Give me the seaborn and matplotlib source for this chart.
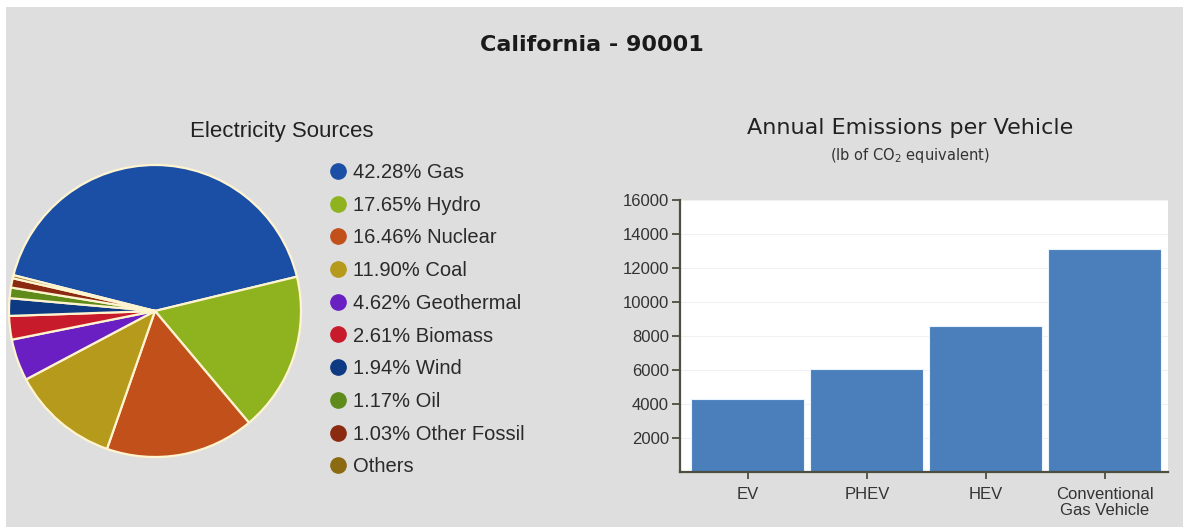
import matplotlib
matplotlib.use("Agg")
import matplotlib.pyplot as plt
from matplotlib.lines import Line2D
from matplotlib.patches import Rectangle
import seaborn as sns
import pandas as pd

# ---- data ----
sources = ["Gas", "Hydro", "Nuclear", "Coal", "Geothermal", "Biomass",
           "Wind", "Oil", "Other Fossil", "Others"]
shares = [42.28, 17.65, 16.46, 11.90, 4.62, 2.61, 1.94, 1.17, 1.03, 0.34]
share_labels = ["42.28% Gas", "17.65% Hydro", "16.46% Nuclear", "11.90% Coal",
                "4.62% Geothermal", "2.61% Biomass", "1.94% Wind", "1.17% Oil",
                "1.03% Other Fossil", "Others"]
source_colors = ["#1b4fa6", "#8fb21f", "#c1501b", "#b69a1c", "#6a1fc2",
                 "#c71a2a", "#0d3a82", "#5f8b1b", "#8a2a10", "#8b6a12"]

vehicles = ["EV", "PHEV", "HEV", "Conventional\nGas Vehicle"]
emissions = [4270, 6040, 8590, 13090]
yticks = [2000, 4000, 6000, 8000, 10000, 12000, 14000, 16000]

sns.set_theme(style="white")
plt.rcParams["font.family"] = ["Liberation Sans", "DejaVu Sans"]

W, H = 1183, 527
fig = plt.figure(figsize=(W / 100, H / 100), dpi=100, facecolor="white")
fig.patches.append(Rectangle((6 / W, 0), 1, 1 - 7 / H, transform=fig.transFigure,
                             facecolor="#dedede", edgecolor="none", zorder=-10))

def fx(px):
    return px / W

def fy(py):
    return 1 - py / H

# main title
fig.text(fx(592), fy(45), "California - 90001", ha="center", va="center",
         fontsize=16, fontweight="bold", family="DejaVu Sans", color="#1a1a1a")

# ---- pie ----
cx, cy, r = 155, 311, 146
axp = fig.add_axes([fx(cx - r), fy(cy + r), (2 * r) / W, (2 * r) / H])
axp.pie(shares, colors=source_colors, startangle=165.8, counterclock=False,
        wedgeprops=dict(edgecolor="#fff4d0", linewidth=1.6))
axp.set_xlim(-1, 1)
axp.set_ylim(-1, 1)
axp.set_aspect("auto")
axp.axis("off")

fig.text(fx(282), fy(131), "Electricity Sources", ha="center", va="center",
         fontsize=16, color="#222222")

handles = [Line2D([0], [0], marker="o", linestyle="none", markersize=11,
                  markerfacecolor=c, markeredgecolor=c) for c in source_colors]
fig.legend(handles, share_labels, loc="upper left",
           bbox_to_anchor=(fx(318), fy(155)), frameon=False, fontsize=14.5,
           labelspacing=0.68, handletextpad=0.15, handlelength=1.2,
           labelcolor="#2a2a2a", borderaxespad=0)

# ---- bar chart ----
axb = fig.add_axes([fx(680), fy(472), (1168 - 680) / W, (472 - 200) / H])
df = pd.DataFrame({"vehicle": vehicles, "emissions": emissions})
sns.barplot(data=df, x="vehicle", y="emissions", ax=axb, color="#4a7fbb",
            saturation=1, width=0.95, edgecolor="#e8f4ff", linewidth=0.8)
axb.set_facecolor("white")
axb.set_ylim(0, 16000)
axb.set_xlim(-0.57, 3.53)
axb.set_yticks(yticks)
axb.set_yticklabels([str(v) for v in yticks], fontsize=12, color="#333333")
axb.set_xticklabels(vehicles, fontsize=12, color="#333333", linespacing=1.05)
axb.set_xlabel("")
axb.set_ylabel("")
for y in yticks:
    axb.axhline(y, color="#f0f0f0", linewidth=0.8, zorder=0)
for s in ["top", "right"]:
    axb.spines[s].set_visible(False)
for s in ["left", "bottom"]:
    axb.spines[s].set_color("#4d4d40")
    axb.spines[s].set_linewidth(1.6)
axb.tick_params(axis="y", direction="out", length=6, width=1.3, color="#4d4d40",
                left=True, pad=2)
axb.tick_params(axis="x", direction="out", length=5, width=1.3, color="#4d4d40",
                bottom=True, pad=6)

fig.text(fx(910), fy(128), "Annual Emissions per Vehicle", ha="center", va="center",
         fontsize=16, family="DejaVu Sans", color="#222222")
fig.text(fx(910), fy(155), "(lb of CO$_2$ equivalent)", ha="center", va="center",
         fontsize=10.5, family="DejaVu Sans", color="#333333")

fig.savefig("out.png", dpi=100, facecolor="white")
